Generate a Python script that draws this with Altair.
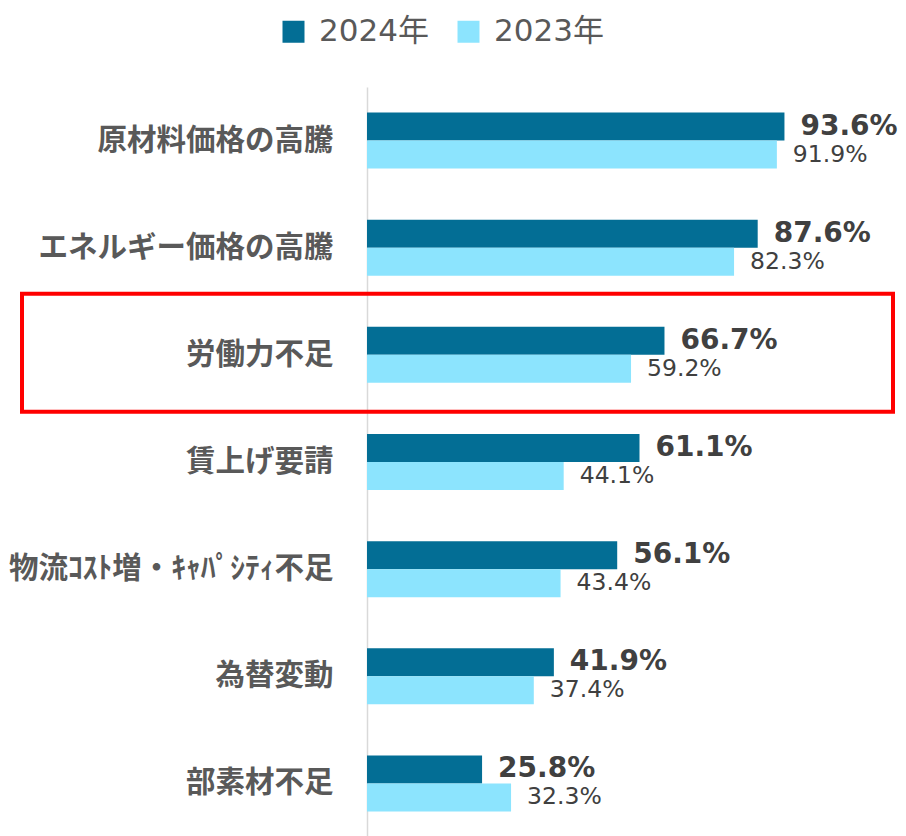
import altair as alt
import pandas as pd

categories = ["原材料価格の高騰", "エネルギー価格の高騰", "労働力不足", "賃上げ要請",
              "物流ｺｽﾄ増・ｷｬﾊﾟｼﾃｨ不足", "為替変動", "部素材不足"]
series = ["2024年", "2023年"]
values_2024 = [93.6, 87.6, 66.7, 61.1, 56.1, 41.9, 25.8]
values_2023 = [91.9, 82.3, 59.2, 44.1, 43.4, 37.4, 32.3]
highlight = ["労働力不足"]

rows = []
for c, v in zip(categories, values_2024):
    rows.append({"cat": c, "year": series[0], "v": v, "label": f"{v:.1f}%"})
for c, v in zip(categories, values_2023):
    rows.append({"cat": c, "year": series[1], "v": v, "label": f"{v:.1f}%"})
df = pd.DataFrame(rows)
hl = pd.DataFrame({"cat": highlight})

DARK = "#036E95"
LIGHT = "#8CE4FE"
CJK = "Noto Sans CJK JP"
NUM = "DejaVu Sans"

y_enc = alt.Y("cat:N", sort=categories,
              scale=alt.Scale(domain=categories, range=[0, 750], paddingInner=0, paddingOuter=0),
              axis=alt.Axis(title=None, ticks=False, grid=False, labelFont=CJK, labelFontWeight="bold",
                            labelFontSize=29.5, labelColor="#595959", labelPadding=34,
                            domainColor="#d9d9d9", domainWidth=1.5, labelLimit=400))
yoff = alt.YOffset("year:N", sort=series,
                   scale=alt.Scale(domain=series, paddingInner=0, paddingOuter=0.914))
x_enc = alt.X("v:Q", scale=alt.Scale(domain=[0, 100]), axis=None)

bars = alt.Chart(df).mark_bar().encode(
    y=y_enc, yOffset=yoff, x=x_enc,
    color=alt.Color("year:N", sort=series,
                    scale=alt.Scale(domain=series, range=[DARK, LIGHT]),
                    legend=alt.Legend(title=None, orient="none", legendX=-89, legendY=-71,
                                      direction="horizontal", symbolType="square", symbolSize=484,
                                      symbolStrokeWidth=0, symbolOpacity=1,
                                      labelFont=f"{NUM}, {CJK}", labelFontSize=31,
                                      labelColor="#595959", labelOffset=10, columnPadding=24,
                                      padding=0))
)

lab24 = alt.Chart(df).transform_filter(alt.datum.year == series[0]).mark_text(
    align="left", baseline="middle", dx=16, font=NUM, fontWeight="bold", fontSize=28, color="#404040"
).encode(y=y_enc, yOffset=yoff, x=x_enc, text="label:N")

lab23 = alt.Chart(df).transform_filter(alt.datum.year == series[1]).mark_text(
    align="left", baseline="middle", dx=16, font=NUM, fontSize=23.5, color="#404040"
).encode(y=y_enc, yOffset=yoff, x=x_enc, text="label:N")

frame = alt.Chart(hl).mark_rect(fillOpacity=0, stroke="#FF0000", strokeWidth=4,
                                height=118, yOffset=-2).encode(
    y=y_enc, x=alt.value(-345), x2=alt.value(526)
)

chart = alt.layer(bars, lab24, lab23, frame).properties(
    width=446, height=737,
    autosize=alt.AutoSizeParams(type="none"),
    padding={"left": 359, "top": 79, "right": 85, "bottom": 13},
).configure_view(stroke=None)

chart.save("out.html", embed_options={"renderer": "svg", "actions": False})
